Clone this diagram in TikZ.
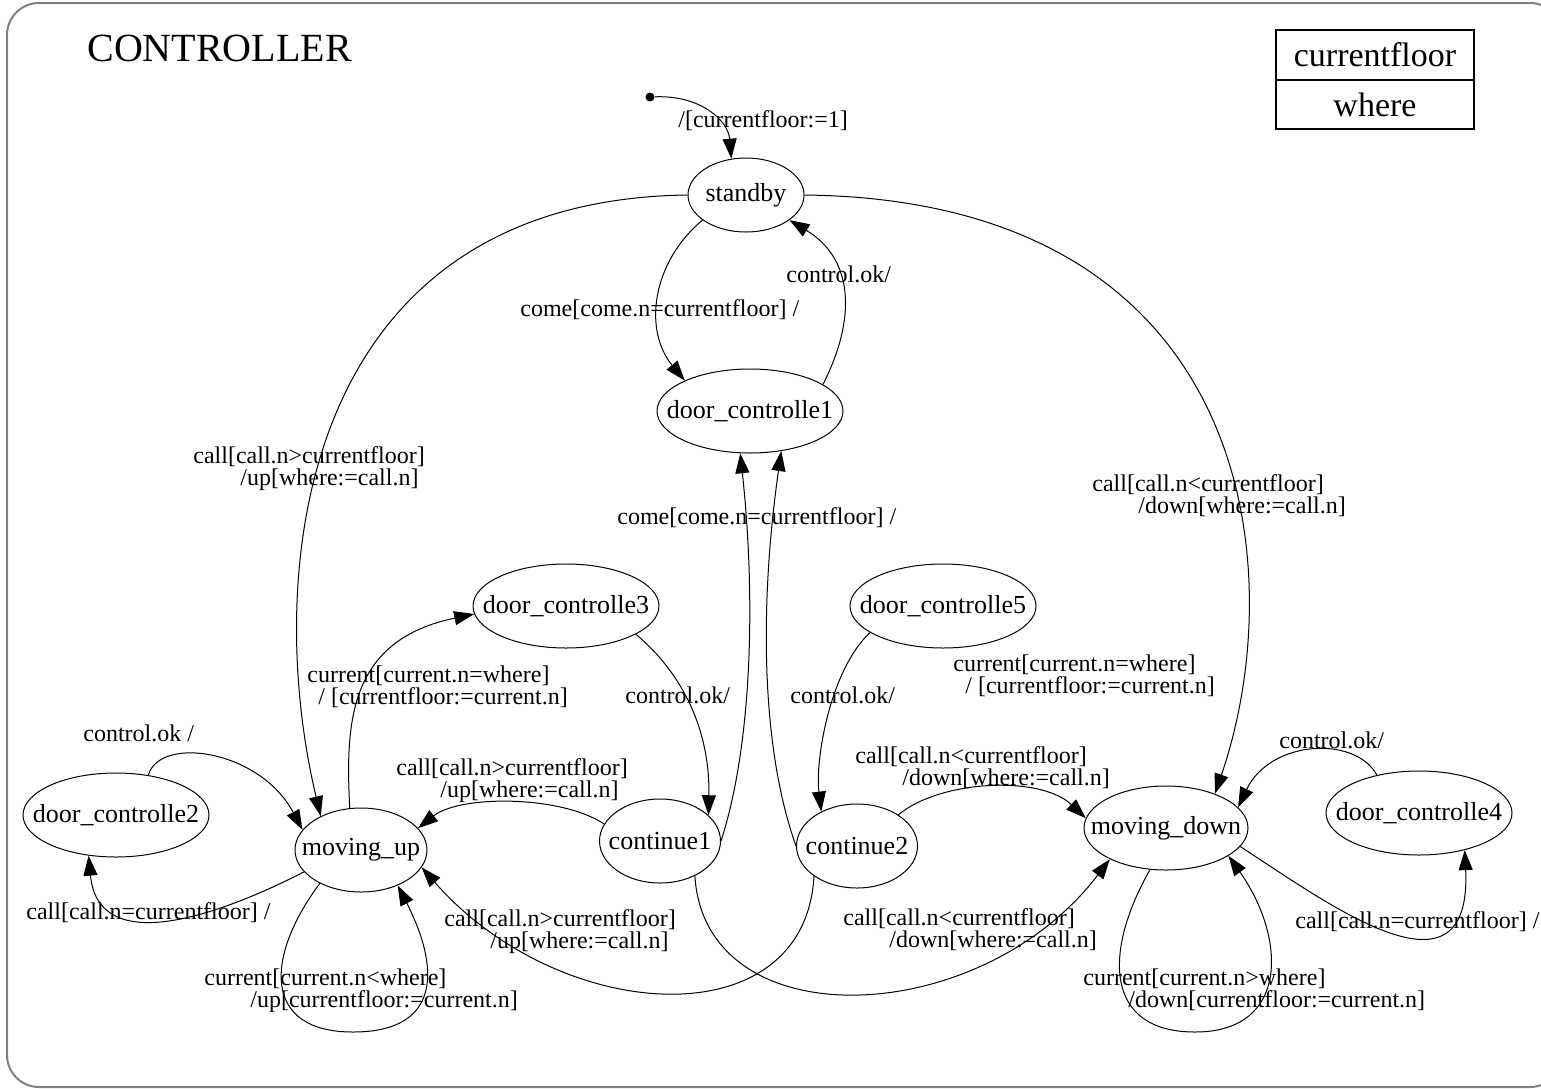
\documentclass[tikz,border=0pt]{standalone}
\usepackage{fontspec}
\setmainfont{Liberation Serif}
\usetikzlibrary{arrows.meta,positioning,shapes.geometric}

\begin{document}
\begin{tikzpicture}[
    x=0.5pt, y=-0.5pt,
    state/.style={draw, ellipse, line width=0.5pt, inner sep=0pt, minimum height=42pt, font=\fontsize{13}{15}\selectfont},
    lbl/.style={inner sep=0pt, anchor=west, align=left, font=\fontsize{12}{11}\selectfont},
    varbox/.style={draw, line width=0.7pt, minimum width=99pt, inner sep=0pt, outer sep=0pt, font=\fontsize{17}{20}\selectfont},
    initdot/.style={circle, fill, inner sep=0pt, minimum size=4.5pt},
    arrow/.style={-{Triangle[length=10pt, width=7pt]}, line width=0.5pt}
  ]
    \useasboundingbox (0,0) rectangle (1541,1088);
    \draw[gray, line width=1pt, rounded corners=16pt] (7,3) rectangle (1562,1087);
    \node[anchor=base west, inner sep=0pt, font=\fontsize{20}{24}\selectfont] (title) at (87,61) {CONTROLLER};

    % variables
    \node[varbox, minimum height=25pt] (cfloor) at (1375,55) {currentfloor};
    \node[varbox, minimum height=24.5pt, below=0pt of cfloor] (where) {where};

    % states
    \node[initdot] (init) at (650,97) {};
    \node[state, minimum width=58pt, minimum height=37pt] (standby) at (746,195) {\makebox[0pt]{standby}};
    \node[state, minimum width=93pt] (door1) at (750,411) {\makebox[0pt]{door\_controlle1}};
    \node[state, minimum width=93pt] (door2) at (116,815) {\makebox[0pt]{door\_controlle2}};
    \node[state, minimum width=93pt] (door3) at (566,606) {\makebox[0pt]{door\_controlle3}};
    \node[state, minimum width=93pt] (door4) at (1419,813) {\makebox[0pt]{door\_controlle4}};
    \node[state, minimum width=93pt] (door5) at (943,606) {\makebox[0pt]{door\_controlle5}};
    \node[state, minimum width=66pt] (movingup) at (361,850) {\makebox[0pt]{moving\_up}};
    \node[state, minimum width=82pt] (movingdown) at (1166,828) {\makebox[0pt]{moving\_down}};
    \node[state, minimum width=60.5pt] (cont1) at (660,841) {\makebox[0pt]{continue1}};
    \node[state, minimum width=60.5pt] (cont2) at (857,846) {\makebox[0pt]{continue2}};
    \coordinate (muloop) at (353,1032);
    \coordinate (mdloop) at (1195,1032);

    % transitions
    \draw[arrow] (init) .. controls (700,95) and (728,120) .. (standby.112);
    \draw[arrow] (standby.210) .. controls (652,262) and (643,330) .. (door1.155);
    \draw[arrow] (door1.20) .. controls (858,315) and (852,258) .. (standby.330);
    \draw[arrow] (standby.west) .. controls (300,200) and (262,570) .. (movingup.140);
    \draw[arrow] (standby.east) .. controls (1255,200) and (1292,570) .. (movingdown.35);
    \draw[arrow] (movingup.105) .. controls (345,720) and (350,640) .. (door3.185);
    \draw[arrow] (door3.338) .. controls (690,680) and (710,740) .. (cont1.28);
    \draw[arrow] (cont1.163) .. controls (560,795) and (460,795) .. (movingup.21);
    \draw[arrow] (cont1.east) .. controls (752,745) and (756,600) .. (door1.257);
    \draw[arrow] (cont2.west) .. controls (760,745) and (760,600) .. (door1.308);
    \draw[arrow] (door5.200) .. controls (830,670) and (815,760) .. (cont2.136);
    \draw[arrow] (cont2.37) .. controls (940,780) and (1040,775) .. (movingdown.173);
    \draw[arrow] (cont1.315) .. controls (705,1040) and (980,1030) .. (movingdown.209);
    \draw[arrow] (cont2.215) .. controls (805,1040) and (560,1025) .. (movingup.344);
    \draw[arrow] (movingup.201) .. controls (210,920) and (98,955) .. (door2.236);
    \draw[arrow] (door2.51) .. controls (160,735) and (260,750) .. (movingup.161);
    \draw[arrow] (movingup.219) .. controls (265,957) and (262,1032) .. (muloop)
                 .. controls (443,1032) and (439,966) .. (movingup.316);
    \draw[arrow] (movingdown.249) .. controls (1104,950) and (1103,1032) .. (mdloop)
                 .. controls (1290,1032) and (1286,937) .. (movingdown.336);
    \draw[arrow] (movingdown.346) .. controls (1330,905) and (1472,1010) .. (door4.321);
    \draw[arrow] (door4.138) .. controls (1355,735) and (1270,740) .. (movingdown.16);

    % labels
    \node[lbl] (l-init) at (678,121) {/[currentfloor:=1]};
    \node[lbl] (l-come1) at (520,310) {come[come.n=currentfloor] /};
    \node[lbl] (l-ok1) at (786,274) {control.ok/};
    \node[lbl] (l-callup) at (193,469) {call[call.n>currentfloor]\\\hspace*{23.5pt}/up[where:=call.n]};
    \node[lbl] (l-calldown) at (1092,496) {call[call.n<currentfloor]\\\hspace*{23pt}/down[where:=call.n]};
    \node[lbl] (l-come2) at (617,518) {come[come.n=currentfloor] /};
    \node[lbl] (l-cur3) at (307,687) {current[current.n=where]\\\hspace*{5.5pt}/ [currentfloor:=current.n]};
    \node[lbl] (l-ok3) at (625,695) {control.ok/};
    \node[lbl] (l-ok5) at (790,695) {control.ok/};
    \node[lbl] (l-cur5) at (953,676) {current[current.n=where]\\\hspace*{6pt}/ [currentfloor:=current.n]};
    \node[lbl] (l-up1) at (396,781) {call[call.n>currentfloor]\\\hspace*{22pt}/up[where:=call.n]};
    \node[lbl] (l-down2) at (855,768) {call[call.n<currentfloor]\\\hspace*{23.5pt}/down[where:=call.n]};
    \node[lbl] (l-down1) at (843,930) {call[call.n<currentfloor]\\\hspace*{23pt}/down[where:=call.n]};
    \node[lbl] (l-up2) at (444,932) {call[call.n>currentfloor]\\\hspace*{23pt}/up[where:=call.n]};
    \node[lbl] (l-eq2) at (26,913) {call[call.n=currentfloor] /};
    \node[lbl] (l-ok2) at (83,733) {control.ok /};
    \node[lbl] (l-loopup) at (204,991) {current[current.n<where]\\\hspace*{23pt}/up[currentfloor:=current.n]};
    \node[lbl] (l-loopdown) at (1083,990) {current[current.n>where]\\\hspace*{22.5pt}/down[currentfloor:=current.n]};
    \node[lbl] (l-eq4) at (1295,922) {call[call.n=currentfloor] /};
    \node[lbl] (l-ok4) at (1279,740) {control.ok/};
\end{tikzpicture}
\end{document}
